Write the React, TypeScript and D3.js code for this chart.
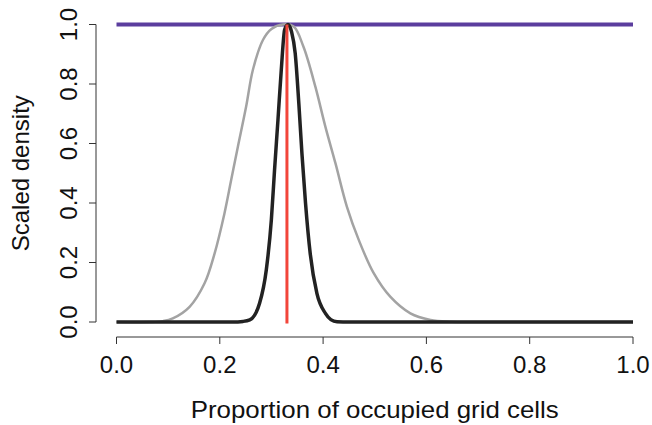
import React from "react";
import * as d3 from "d3";

// Wide (gray) scaled density curve
const grayX = [0.0, 0.064, 0.09, 0.109, 0.1415, 0.1705, 0.19, 0.209, 0.222, 0.235, 0.251, 0.264, 0.2835, 0.3, 0.322, 0.343, 0.362, 0.385, 0.4045, 0.424, 0.446, 0.469, 0.498, 0.53, 0.569, 0.608, 0.647, 0.7, 1.0];
const grayY = [0, 0, 0.003, 0.012, 0.051, 0.13, 0.231, 0.365, 0.477, 0.589, 0.724, 0.847, 0.948, 0.985, 1.0, 0.993, 0.925, 0.791, 0.656, 0.533, 0.388, 0.276, 0.164, 0.085, 0.029, 0.007, 0.001, 0, 0];

// Narrow (black) scaled density curve
const blackX = [0.0, 0.225, 0.245, 0.258, 0.277, 0.29, 0.2998, 0.306, 0.3126, 0.319, 0.3256, 0.332, 0.339, 0.346, 0.353, 0.359, 0.366, 0.375, 0.388, 0.4045, 0.415, 0.427, 0.45, 1.0];
const blackY = [0, 0, 0.002, 0.007, 0.063, 0.175, 0.343, 0.511, 0.679, 0.847, 0.983, 1.0, 0.975, 0.903, 0.735, 0.567, 0.399, 0.231, 0.096, 0.029, 0.008, 0.001, 0, 0];

// Flat (purple) line
const flatX = [0.0, 1.0];
const flatY = [1.0, 1.0];

// Red vertical reference line
const trueValue = 0.33;
const redY = [1.0, -0.005];

const xTicks = [0.0, 0.2, 0.4, 0.6, 0.8, 1.0];
const yTicks = [0.0, 0.2, 0.4, 0.6, 0.8, 1.0];

const xLabel = "Proportion of occupied grid cells";
const yLabel = "Scaled density";

export default function App() {
  const W = 652;
  const H = 425;
  const x = d3.scaleLinear().domain([0, 1]).range([116.5, 633]);
  const y = d3.scaleLinear().domain([0, 1]).range([322, 24.5]);
  const font = "'Liberation Sans', Arial, Helvetica, sans-serif";

  const smooth = d3
    .line<[number, number]>()
    .x((d) => x(d[0]))
    .y((d) => Math.min(y(0), y(d[1])))
    .curve(d3.curveCatmullRom.alpha(0.5));

  const line = d3
    .line<[number, number]>()
    .x((d) => x(d[0]))
    .y((d) => y(d[1]))
    .curve(d3.curveMonotoneX);

  const grayPts = grayX.map((v, i) => [v, grayY[i]] as [number, number]);
  const blackPts = blackX.map((v, i) => [v, blackY[i]] as [number, number]);
  const flatPts = flatX.map((v, i) => [v, flatY[i]] as [number, number]);

  const axisColor = "#333";
  const axisY = 337;
  const axisX = 96;
  const fs = 24;

  return (
    <svg
      width={W}
      height={H}
      style={{ position: "absolute", left: 0, top: 0, background: "#fff" }}
      fontFamily={font}
    >
      {/* data */}
      <path d={line(flatPts) || ""} fill="none" stroke="#5b3d9e" strokeWidth={4} />
      <path d={smooth(grayPts) || ""} fill="none" stroke="#a3a3a3" strokeWidth={2.5} />
      <path d={line(blackPts) || ""} fill="none" stroke="#222" strokeWidth={3.5} strokeLinejoin="round" />
      <line
        x1={x(trueValue)}
        x2={x(trueValue)}
        y1={y(redY[0])}
        y2={y(redY[1])}
        stroke="#f2453a"
        strokeWidth={3}
      />

      {/* x axis */}
      <line x1={x(xTicks[0])} x2={x(xTicks[xTicks.length - 1])} y1={axisY} y2={axisY} stroke={axisColor} strokeWidth={1} />
      {xTicks.map((t) => (
        <g key={"xt" + t}>
          <line x1={x(t)} x2={x(t)} y1={axisY} y2={axisY + 7} stroke={axisColor} strokeWidth={1} />
          <text x={x(t)} y={373} textAnchor="middle" fontSize={fs} fill="#111">
            {t.toFixed(1)}
          </text>
        </g>
      ))}
      <text
        x={(x(0) + x(1)) / 2}
        y={418}
        textAnchor="middle"
        fontSize={fs}
        fill="#111"
        textLength={368}
        lengthAdjust="spacingAndGlyphs"
      >
        {xLabel}
      </text>

      {/* y axis */}
      <line x1={axisX} x2={axisX} y1={y(yTicks[0])} y2={y(yTicks[yTicks.length - 1])} stroke={axisColor} strokeWidth={1} />
      {yTicks.map((t) => (
        <g key={"yt" + t}>
          <line x1={axisX} x2={axisX - 7} y1={y(t)} y2={y(t)} stroke={axisColor} strokeWidth={1} />
          <text
            transform={`translate(${77},${y(t)}) rotate(-90)`}
            textAnchor="middle"
            fontSize={fs}
            fill="#111"
          >
            {t.toFixed(1)}
          </text>
        </g>
      ))}
      <text
        transform={`translate(${28.5},${(y(0) + y(1)) / 2}) rotate(-90)`}
        textAnchor="middle"
        fontSize={fs}
        fill="#111"
      >
        {yLabel}
      </text>
    </svg>
  );
}
